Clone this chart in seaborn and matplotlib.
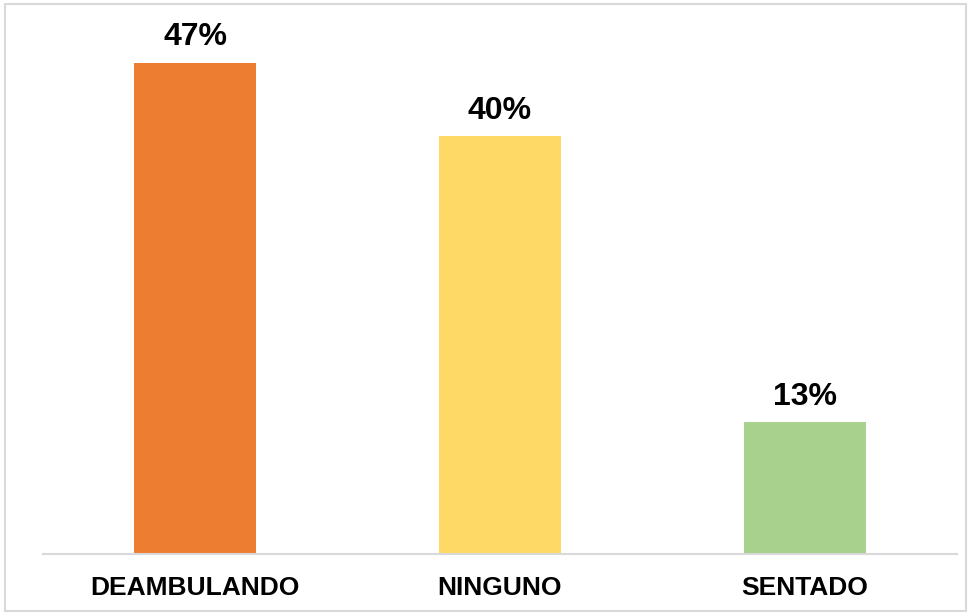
import matplotlib
matplotlib.use("Agg")
import matplotlib.pyplot as plt
import seaborn as sns
import pandas as pd
from matplotlib.patches import Rectangle

categories = ["DEAMBULANDO", "NINGUNO", "SENTADO"]
values = [47, 40, 12.6]
value_labels = ["47%", "40%", "13%"]
colors = ["#ED7D31", "#FFD966", "#A9D18E"]

df = pd.DataFrame({"cat": categories, "val": values})

sns.set_theme(style="white")
plt.rcParams['font.family'] = ['Liberation Sans', 'DejaVu Sans']

fig = plt.figure(figsize=(9.7, 6.15), dpi=100)
W, H = 970, 615
ax = fig.add_axes([43 / W, (H - 554) / H, (957 - 43) / W, (554 - 31.5) / H])

sns.barplot(data=df, x="cat", y="val", hue="cat", palette=colors,
            width=0.4, legend=False, ax=ax, saturation=1, linewidth=0)

ax.set_xlim(-0.5, 2.5)
ax.set_ylim(0, 50)
ax.set_xlabel("")
ax.set_ylabel("")
ax.set_yticks([])
for s in ["top", "right", "left"]:
    ax.spines[s].set_visible(False)
ax.spines["bottom"].set_color("#D9D9D9")
ax.spines["bottom"].set_linewidth(1.5)
ax.tick_params(axis="x", length=0, pad=15.5)
for t in ax.get_xticklabels():
    t.set_fontsize(19)
    t.set_fontweight("bold")
    t.set_color("black")

for i, (v, lab) in enumerate(zip(values, value_labels)):
    ax.annotate(lab, (i, v), xytext=(0, 7.5), textcoords="offset points",
                ha="center", va="bottom", fontsize=23, fontweight="bold",
                color="black")

fig.patches.append(Rectangle((5 / W, 4 / H), (966 - 5) / W, (611 - 4) / H,
                             transform=fig.transFigure, fill=False,
                             edgecolor="#D9D9D9", linewidth=1.5))

fig.savefig("out.png", dpi=100)
